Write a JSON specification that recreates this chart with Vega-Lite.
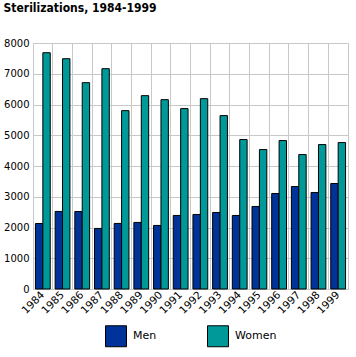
{
  "$schema": "https://vega.github.io/schema/vega-lite/v6.json",
  "width": 315,
  "height": 246,
  "padding": {"left": 3, "top": 2, "right": 6, "bottom": 4},
  "background": "white",
  "title": {"text": "Sterilizations, 1984-1999", "anchor": "start", "frame": "bounds", "font": "DejaVu Sans Condensed", "fontSize": 12, "fontWeight": "bold", "color": "black", "offset": 23},
  "data": {"values": [
    {"year": "1984", "sex": "Men", "value": 2130}, {"year": "1984", "sex": "Women", "value": 7684},
    {"year": "1985", "sex": "Men", "value": 2522}, {"year": "1985", "sex": "Women", "value": 7489},
    {"year": "1986", "sex": "Men", "value": 2520}, {"year": "1986", "sex": "Women", "value": 6710},
    {"year": "1987", "sex": "Men", "value": 1970}, {"year": "1987", "sex": "Women", "value": 7165},
    {"year": "1988", "sex": "Men", "value": 2132}, {"year": "1988", "sex": "Women", "value": 5800},
    {"year": "1989", "sex": "Men", "value": 2165}, {"year": "1989", "sex": "Women", "value": 6288},
    {"year": "1990", "sex": "Men", "value": 2067}, {"year": "1990", "sex": "Women", "value": 6158},
    {"year": "1991", "sex": "Men", "value": 2392}, {"year": "1991", "sex": "Women", "value": 5866},
    {"year": "1992", "sex": "Men", "value": 2424}, {"year": "1992", "sex": "Women", "value": 6190},
    {"year": "1993", "sex": "Men", "value": 2489}, {"year": "1993", "sex": "Women", "value": 5639},
    {"year": "1994", "sex": "Men", "value": 2392}, {"year": "1994", "sex": "Women", "value": 4860},
    {"year": "1995", "sex": "Men", "value": 2684}, {"year": "1995", "sex": "Women", "value": 4535},
    {"year": "1996", "sex": "Men", "value": 3106}, {"year": "1996", "sex": "Women", "value": 4827},
    {"year": "1997", "sex": "Men", "value": 3333}, {"year": "1997", "sex": "Women", "value": 4372},
    {"year": "1998", "sex": "Men", "value": 3139}, {"year": "1998", "sex": "Women", "value": 4697},
    {"year": "1999", "sex": "Men", "value": 3431}, {"year": "1999", "sex": "Women", "value": 4762}
  ]},
  "mark": {"type": "bar", "stroke": "black", "strokeWidth": 1},
  "encoding": {
    "x": {"field": "year", "type": "nominal", "title": null,
      "scale": {"paddingInner": 0, "paddingOuter": 0},
      "axis": {"labelAngle": -45, "labelAlign": "right", "labelBaseline": "middle", "grid": true, "bandPosition": 0, "ticks": false, "domain": false, "gridColor": "#c8c8c8", "gridOpacity": 1, "labelFont": "DejaVu Sans", "labelFontSize": 10.5, "labelColor": "black", "labelPadding": 4}},
    "xOffset": {"field": "sex", "type": "nominal", "scale": {"paddingInner": 0, "paddingOuter": 0.33}},
    "y": {"field": "value", "type": "quantitative", "title": null,
      "scale": {"domain": [0, 8000]},
      "axis": {"values": [0, 1000, 2000, 3000, 4000, 5000, 6000, 7000, 8000], "format": "d", "ticks": false, "domain": false, "gridColor": "#c8c8c8", "gridOpacity": 1, "labelFont": "DejaVu Sans", "labelFontSize": 10, "labelColor": "black", "labelPadding": 4}},
    "color": {"field": "sex", "type": "nominal", "title": null,
      "scale": {"domain": ["Men", "Women"], "range": ["#003399", "#009999"]},
      "legend": {"orient": "bottom", "direction": "horizontal", "symbolType": "square", "symbolSize": 440, "symbolStrokeColor": "black", "symbolStrokeWidth": 1, "symbolOpacity": 1, "labelFont": "DejaVu Sans", "labelFontSize": 11, "labelColor": "black", "columnPadding": 48, "labelOffset": 6, "offset": 9}}
  },
  "config": {
    "view": {"stroke": "#c8c8c8"},
    "legend": {"layout": {"bottom": {"anchor": "middle"}}}
  }
}
